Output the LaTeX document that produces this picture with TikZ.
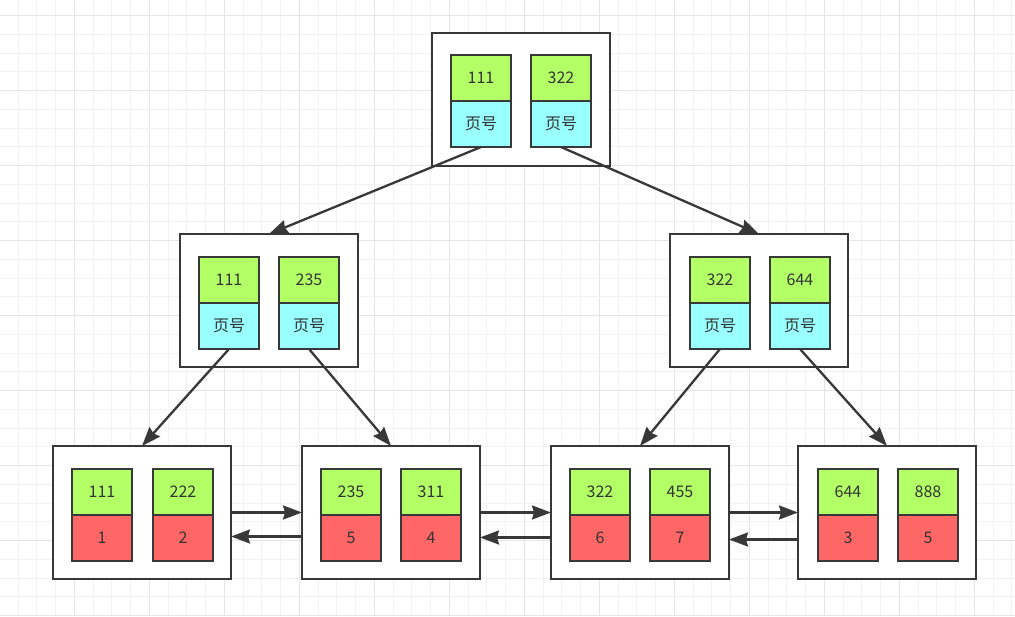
\documentclass[tikz,border=0pt]{standalone}
\usepackage{fontspec}
\newfontfamily\cjk{Noto Sans CJK SC}
\usetikzlibrary{arrows.meta,positioning}
\definecolor{dgray}{HTML}{383838}
\definecolor{cgreen}{HTML}{B3FF66}
\definecolor{ccyan}{HTML}{99FFFF}
\definecolor{cred}{HTML}{FF6666}
\definecolor{gminor}{HTML}{F2F2F2}
\definecolor{gmajor}{HTML}{E5E5E5}
\definecolor{txt}{HTML}{333333}
\tikzset{
  outerbox/.style={draw=dgray, line width=2.2pt, fill=white, minimum width=178pt, minimum height=133pt, anchor=north west, inner sep=0pt, outer sep=0pt},
  cellbase/.style={draw=dgray, line width=1.9pt, minimum width=60pt, minimum height=46pt, anchor=north west, inner sep=0pt, outer sep=0pt, text=txt, font=\cjk\fontsize{16}{19}\selectfont},
  keycell/.style={cellbase, fill=cgreen},
  pagecell/.style={cellbase, fill=ccyan},
  datacell/.style={cellbase, fill=cred},
  link/.style={draw=dgray, line width=2.3pt, -{Stealth[length=19pt, width=14pt, inset=2pt]}},
  gridminor/.style={gminor, line width=1pt},
  gridmajor/.style={gmajor, line width=1pt},
}
\begin{document}
\begin{tikzpicture}[x=1pt,y=-1pt]
\useasboundingbox (0,0) rectangle (1015,616);
\fill[white] (0,0) rectangle (1015,616);
% grid
\foreach \i in {0,...,54} {
  \pgfmathsetmacro{\gx}{\i*18.75-0.7}
  \pgfmathtruncatemacro{\m}{mod(\i,4)}
  \ifnum\m=0 \draw[gridmajor] (\gx,0) -- (\gx,616); \else \draw[gridminor] (\gx,0) -- (\gx,616); \fi
}
\foreach \j in {0,...,33} {
  \pgfmathsetmacro{\gy}{\j*18.75-3.05}
  \pgfmathtruncatemacro{\m}{mod(\j+3,4)}
  \ifnum\m=0 \draw[gridmajor] (0,\gy) -- (1015,\gy); \else \draw[gridminor] (0,\gy) -- (1015,\gy); \fi
}
% outer boxes
\node[outerbox] (root) at (432,33) {};
\node[outerbox] (ml) at (180,234) {};
\node[outerbox] (mr) at (670,234) {};
\node[outerbox] (lf1) at (53,446) {};
\node[outerbox] (lf2) at (302,446) {};
\node[outerbox] (lf3) at (551,446) {};
\node[outerbox] (lf4) at (798,446) {};
% root cells
\node[keycell] (rk1) at (451,55) {111};
\node[pagecell] (rp1) at (451,101) {页号};
\node[keycell] (rk2) at (531,55) {322};
\node[pagecell] (rp2) at (531,101) {页号};
% middle left
\node[keycell] (mlk1) at (199,257) {111};
\node[pagecell] (mlp1) at (199,303) {页号};
\node[keycell] (mlk2) at (279,257) {235};
\node[pagecell] (mlp2) at (279,303) {页号};
% middle right
\node[keycell] (mrk1) at (690,257) {322};
\node[pagecell] (mrp1) at (690,303) {页号};
\node[keycell] (mrk2) at (770,257) {644};
\node[pagecell] (mrp2) at (770,303) {页号};
% leaves
\node[keycell] (a1) at (72,469) {111};
\node[datacell] (b1) at (72,515) {1};
\node[keycell] (a2) at (153,469) {222};
\node[datacell] (b2) at (153,515) {2};
\node[keycell] (a3) at (321,469) {235};
\node[datacell] (b3) at (321,515) {5};
\node[keycell] (a4) at (401,469) {311};
\node[datacell] (b4) at (401,515) {4};
\node[keycell] (a5) at (570,469) {322};
\node[datacell] (b5) at (570,515) {6};
\node[keycell] (a6) at (650,469) {455};
\node[datacell] (b6) at (650,515) {7};
\node[keycell] (a7) at (818,469) {644};
\node[datacell] (b7) at (818,515) {3};
\node[keycell] (a8) at (898,469) {888};
\node[datacell] (b8) at (898,515) {5};
% tree links
\draw[link] (rp1.south) -- (ml.north);
\draw[link] (rp2.south) -- (mr.north);
\draw[link] (mlp1.south) -- (lf1.north);
\draw[link] (mlp2.south) -- (lf2.north);
\draw[link] (mrp1.south) -- (lf3.north);
\draw[link] (mrp2.south) -- (lf4.north);
% sibling links
\draw[link] (lf1.east) -- (lf2.west);
\draw[link] ([yshift=-24pt]lf2.west) -- ([yshift=-24pt]lf1.east);
\draw[link] (lf2.east) -- (lf3.west);
\draw[link] ([yshift=-25pt]lf3.west) -- ([yshift=-25pt]lf2.east);
\draw[link] (lf3.east) -- (lf4.west);
\draw[link] ([yshift=-27pt]lf4.west) -- ([yshift=-27pt]lf3.east);
\end{tikzpicture}
\end{document}
